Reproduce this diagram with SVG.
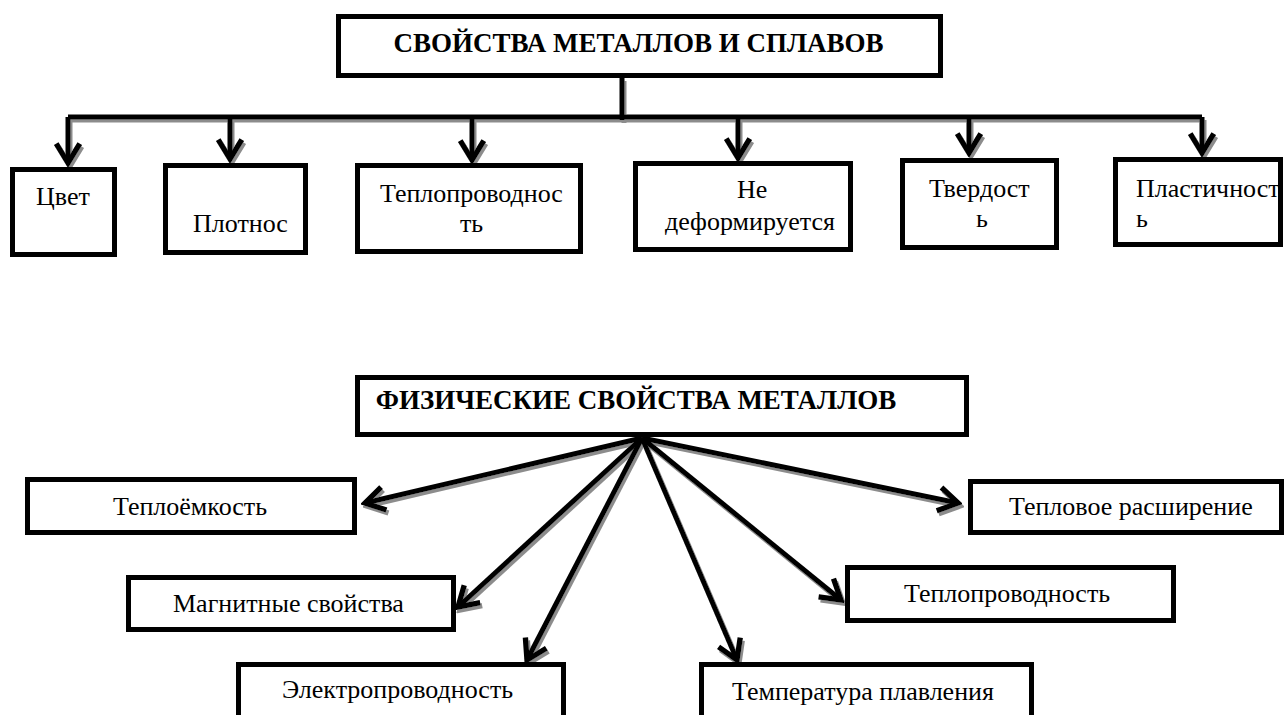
<svg xmlns="http://www.w3.org/2000/svg" width="1286" height="715" viewBox="0 0 1286 715">
<style>
.box{fill:#fff;stroke:#000;stroke-width:5}
.lbl{font-family:"Liberation Serif","Times New Roman",serif;font-size:26px;fill:#000}
.ttl{font-family:"Liberation Serif","Times New Roman",serif;font-size:27px;font-weight:bold;fill:#000}
.con{fill:none;stroke:#000;stroke-width:5;stroke-linejoin:miter}
.arr{fill:none;stroke:#000;stroke-width:5}
</style>
<defs>
<filter id="sh" x="-10%" y="-10%" width="120%" height="120%">
<feDropShadow dx="2" dy="3" stdDeviation="0.6" flood-color="#8c8c8c" flood-opacity="1"/>
</filter>
<marker id="ah" markerUnits="userSpaceOnUse" markerWidth="30" markerHeight="30" viewBox="-24 -14 28 28" refX="0" refY="0" orient="auto">
<path d="M-18,-11 L0,0 L-18,11" class="arr"/>
</marker>
</defs>
<rect width="1286" height="715" fill="#fff"/>

<g id="connectors" filter="url(#sh)">
<path class="con" d="M622,78 V120"/>
<path class="con" d="M68,117 H1202"/>
<path class="con" d="M68,117 V163" marker-end="url(#ah)"/>
<path class="con" d="M230,117 V159" marker-end="url(#ah)"/>
<path class="con" d="M472,117 V160" marker-end="url(#ah)"/>
<path class="con" d="M738,117 V158" marker-end="url(#ah)"/>
<path class="con" d="M969,117 V153" marker-end="url(#ah)"/>
<path class="con" d="M1202,117 V153" marker-end="url(#ah)"/>
<path class="con" d="M642,438 L365,503" marker-end="url(#ah)"/>
<path class="con" d="M642,438 L458,607" marker-end="url(#ah)"/>
<path class="con" d="M642,438 L527,660" marker-end="url(#ah)"/>
<path class="con" d="M642,438 L737,660" marker-end="url(#ah)"/>
<path class="con" d="M642,438 L841,600" marker-end="url(#ah)"/>
<path class="con" d="M642,438 L958,503" marker-end="url(#ah)"/>
</g>

<g id="title-top">
<rect class="box" x="338.5" y="16.5" width="602" height="59"/>
<text class="ttl" x="638.5" y="52" text-anchor="middle">СВОЙСТВА МЕТАЛЛОВ И СПЛАВОВ</text>
</g>
<g id="color">
<rect class="box" x="12.5" y="169.5" width="102" height="85"/>
<text class="lbl" x="36" y="205">Цвет</text>
</g>
<g id="density">
<rect class="box" x="165.5" y="165.5" width="140" height="87"/>
<text class="lbl" x="193" y="232">Плотнос</text>
</g>
<g id="conductivity-top">
<rect class="box" x="357.5" y="165.5" width="223" height="86"/>
<text class="lbl" x="380" y="202">Теплопроводнос</text>
<text class="lbl" x="460" y="232">ть</text>
</g>
<g id="nondeform">
<rect class="box" x="635.5" y="163.5" width="215" height="86"/>
<text class="lbl" x="737" y="198">Не</text>
<text class="lbl" x="665" y="230">деформируется</text>
</g>
<g id="hardness">
<rect class="box" x="902.5" y="160.5" width="154" height="87"/>
<text class="lbl" x="929" y="197">Твердост</text>
<text class="lbl" x="976" y="227">ь</text>
</g>
<g id="plasticity">
<rect class="box" x="1115.5" y="159.5" width="165" height="85"/>
<text class="lbl" x="1136" y="197">Пластичност</text>
<text class="lbl" x="1136" y="227">ь</text>
</g>

<g id="title-bottom">
<rect class="box" x="357.5" y="377.5" width="609" height="57"/>
<text class="ttl" x="636" y="409" text-anchor="middle">ФИЗИЧЕСКИЕ СВОЙСТВА МЕТАЛЛОВ</text>
</g>
<g id="heat-capacity">
<rect class="box" x="27.5" y="479.5" width="327" height="53"/>
<text class="lbl" x="113" y="515">Теплоёмкость</text>
</g>
<g id="thermal-expansion">
<rect class="box" x="970.5" y="481.5" width="311" height="51"/>
<text class="lbl" x="1009" y="515">Тепловое расширение</text>
</g>
<g id="magnetic">
<rect class="box" x="128.5" y="577.5" width="325" height="52"/>
<text class="lbl" x="173" y="612">Магнитные свойства</text>
</g>
<g id="conductivity-bottom">
<rect class="box" x="847.5" y="567.5" width="326" height="53"/>
<text class="lbl" x="904" y="602">Теплопроводность</text>
</g>
<g id="electric">
<rect class="box" x="238.5" y="664.5" width="325" height="60"/>
<text class="lbl" x="282" y="698">Электропроводность</text>
</g>
<g id="melting">
<rect class="box" x="701.5" y="664.5" width="330" height="60"/>
<text class="lbl" x="732" y="700">Температура плавления</text>
</g>
</svg>
